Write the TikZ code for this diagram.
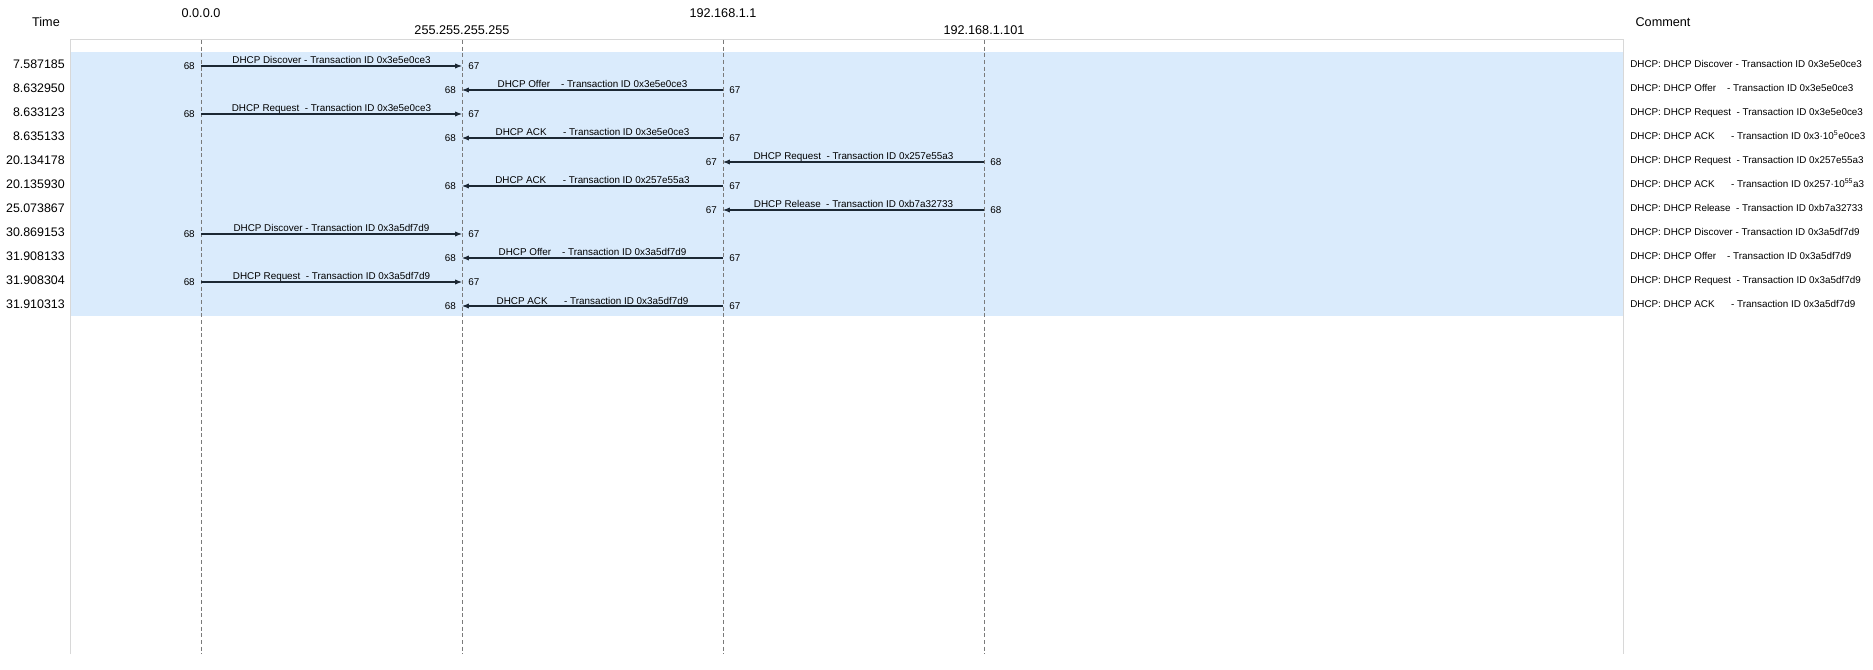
\documentclass[tikz,border=0pt]{standalone}
\usepackage{fontspec}
\setmainfont{Liberation Sans}
\usetikzlibrary{arrows.meta,positioning}
\definecolor{rowblue}{RGB}{218,235,252}
\definecolor{framegray}{RGB}{216,216,216}
\definecolor{lifegray}{RGB}{122,122,122}
\definecolor{arrowdark}{RGB}{28,40,52}
\begin{document}
\begin{tikzpicture}[x=0.75pt,y=-0.75pt,
	hostlabel/.style={inner sep=0pt,font=\fontsize{9.5}{11}\selectfont},
	timelabel/.style={anchor=east,inner sep=0pt,font=\fontsize{9.3}{11}\selectfont},
	msglabel/.style={anchor=south,inner xsep=0pt,inner ysep=0.5pt,text depth=0.8pt,font=\fontsize{7.4}{9}\selectfont},
	portlabel/.style={inner sep=0pt,font=\fontsize{7.4}{9}\selectfont},
	commentlabel/.style={anchor=west,inner sep=0pt,text height=5.4pt,text depth=0pt,font=\fontsize{7.4}{9}\selectfont},
	lifeline/.style={draw=lifegray,dash pattern=on 3pt off 2pt,line width=0.75pt},
	msgline/.style={draw=arrowdark,line width=0.8pt,-{Latex[length=5.2pt,width=4pt]}}]
					\useasboundingbox (0,0) rectangle (1873,670);
					\fill[rowblue] (70,52) rectangle (1623,316);
					\draw[framegray,line width=0.75pt] (70,654) -- (70,40) -- (1623,40) -- (1623,654);
					
					% hosts
					\node[hostlabel] (time) at (46,22) {Time};
					\node[hostlabel] (h0) at (201,13) {0.0.0.0};
					\node[hostlabel] (hb) at (462,30) {255.255.255.255};
					\node[hostlabel] (hs) at (723,13) {192.168.1.1};
					\node[hostlabel] (hc) at (984,30) {192.168.1.101};
					\node[hostlabel] (comment) at (1663,22) {Comment};
					
					\coordinate (top) at (0,40);
					\coordinate (bottom) at (0,654);
					\draw[lifeline] (h0 |- top) -- (h0 |- bottom);
					\draw[lifeline] (hb |- top) -- (hb |- bottom);
					\draw[lifeline] (hs |- top) -- (hs |- bottom);
					\draw[lifeline] (hc |- top) -- (hc |- bottom);
					
					% times
					\node[timelabel] (t1) at (65,64) {7.587185};
					\node[timelabel] (t2) at (65,88) {8.632950};
					\node[timelabel] (t3) at (65,112) {8.633123};
					\node[timelabel] (t4) at (65,136) {8.635133};
					\node[timelabel] (t5) at (65,160) {20.134178};
					\node[timelabel] (t6) at (65,184) {20.135930};
					\node[timelabel] (t7) at (65,208) {25.073867};
					\node[timelabel] (t8) at (65,232) {30.869153};
					\node[timelabel] (t9) at (65,256) {31.908133};
					\node[timelabel] (t10) at (65,280) {31.908304};
					\node[timelabel] (t11) at (65,304) {31.910313};
					
					% messages
					\node[msglabel] (m1) at (331.5,66) {DHCP Discover - Transaction ID 0x3e5e0ce3};
					\draw[msgline] (h0 |- m1.south) -- (hb |- m1.south);
					\node[portlabel,left=4.5pt] (s1) at (h0 |- m1.south) {68};
					\node[portlabel,right=4.5pt] (d1) at (hb |- m1.south) {67};
					
					\node[msglabel] (m2) at (592.5,90) {DHCP Offer~~~~- Transaction ID 0x3e5e0ce3};
					\draw[msgline] (hs |- m2.south) -- (hb |- m2.south);
					\node[portlabel,right=4.5pt] (s2) at (hs |- m2.south) {67};
					\node[portlabel,left=4.5pt] (d2) at (hb |- m2.south) {68};
					
					\node[msglabel] (m3) at (331.5,114) {DHCP Request~~- Transaction ID 0x3e5e0ce3};
					\draw[msgline] (h0 |- m3.south) -- (hb |- m3.south);
					\node[portlabel,left=4.5pt] (s3) at (h0 |- m3.south) {68};
					\node[portlabel,right=4.5pt] (d3) at (hb |- m3.south) {67};
					
					\node[msglabel] (m4) at (592.5,138) {DHCP ACK~~~~~~- Transaction ID 0x3e5e0ce3};
					\draw[msgline] (hs |- m4.south) -- (hb |- m4.south);
					\node[portlabel,right=4.5pt] (s4) at (hs |- m4.south) {67};
					\node[portlabel,left=4.5pt] (d4) at (hb |- m4.south) {68};
					
					\node[msglabel] (m5) at (853.5,162) {DHCP Request~~- Transaction ID 0x257e55a3};
					\draw[msgline] (hc |- m5.south) -- (hs |- m5.south);
					\node[portlabel,right=4.5pt] (s5) at (hc |- m5.south) {68};
					\node[portlabel,left=4.5pt] (d5) at (hs |- m5.south) {67};
					
					\node[msglabel] (m6) at (592.5,186) {DHCP ACK~~~~~~- Transaction ID 0x257e55a3};
					\draw[msgline] (hs |- m6.south) -- (hb |- m6.south);
					\node[portlabel,right=4.5pt] (s6) at (hs |- m6.south) {67};
					\node[portlabel,left=4.5pt] (d6) at (hb |- m6.south) {68};
					
					\node[msglabel] (m7) at (853.5,210) {DHCP Release~~- Transaction ID 0xb7a32733};
					\draw[msgline] (hc |- m7.south) -- (hs |- m7.south);
					\node[portlabel,right=4.5pt] (s7) at (hc |- m7.south) {68};
					\node[portlabel,left=4.5pt] (d7) at (hs |- m7.south) {67};
					
					\node[msglabel] (m8) at (331.5,234) {DHCP Discover - Transaction ID 0x3a5df7d9};
					\draw[msgline] (h0 |- m8.south) -- (hb |- m8.south);
					\node[portlabel,left=4.5pt] (s8) at (h0 |- m8.south) {68};
					\node[portlabel,right=4.5pt] (d8) at (hb |- m8.south) {67};
					
					\node[msglabel] (m9) at (592.5,258) {DHCP Offer~~~~- Transaction ID 0x3a5df7d9};
					\draw[msgline] (hs |- m9.south) -- (hb |- m9.south);
					\node[portlabel,right=4.5pt] (s9) at (hs |- m9.south) {67};
					\node[portlabel,left=4.5pt] (d9) at (hb |- m9.south) {68};
					
					\node[msglabel] (m10) at (331.5,282) {DHCP Request~~- Transaction ID 0x3a5df7d9};
					\draw[msgline] (h0 |- m10.south) -- (hb |- m10.south);
					\node[portlabel,left=4.5pt] (s10) at (h0 |- m10.south) {68};
					\node[portlabel,right=4.5pt] (d10) at (hb |- m10.south) {67};
					
					\node[msglabel] (m11) at (592.5,306) {DHCP ACK~~~~~~- Transaction ID 0x3a5df7d9};
					\draw[msgline] (hs |- m11.south) -- (hb |- m11.south);
					\node[portlabel,right=4.5pt] (s11) at (hs |- m11.south) {67};
					\node[portlabel,left=4.5pt] (d11) at (hb |- m11.south) {68};
					
					% comments
					\node[commentlabel] (c1) at (1630,64) {DHCP: DHCP Discover - Transaction ID 0x3e5e0ce3};
					\node[commentlabel] (c2) at (1630,88) {DHCP: DHCP Offer~~~~- Transaction ID 0x3e5e0ce3};
					\node[commentlabel] (c3) at (1630,112) {DHCP: DHCP Request~~- Transaction ID 0x3e5e0ce3};
					\node[commentlabel] (c4) at (1630,136) {DHCP: DHCP ACK~~~~~~- Transaction ID 0x3·10\textsuperscript{5}e0ce3};
					\node[commentlabel] (c5) at (1630,160) {DHCP: DHCP Request~~- Transaction ID 0x257e55a3};
					\node[commentlabel] (c6) at (1630,184) {DHCP: DHCP ACK~~~~~~- Transaction ID 0x257·10\textsuperscript{55}a3};
					\node[commentlabel] (c7) at (1630,208) {DHCP: DHCP Release~~- Transaction ID 0xb7a32733};
					\node[commentlabel] (c8) at (1630,232) {DHCP: DHCP Discover - Transaction ID 0x3a5df7d9};
					\node[commentlabel] (c9) at (1630,256) {DHCP: DHCP Offer~~~~- Transaction ID 0x3a5df7d9};
					\node[commentlabel] (c10) at (1630,280) {DHCP: DHCP Request~~- Transaction ID 0x3a5df7d9};
					\node[commentlabel] (c11) at (1630,304) {DHCP: DHCP ACK~~~~~~- Transaction ID 0x3a5df7d9};
\end{tikzpicture}
\end{document}
